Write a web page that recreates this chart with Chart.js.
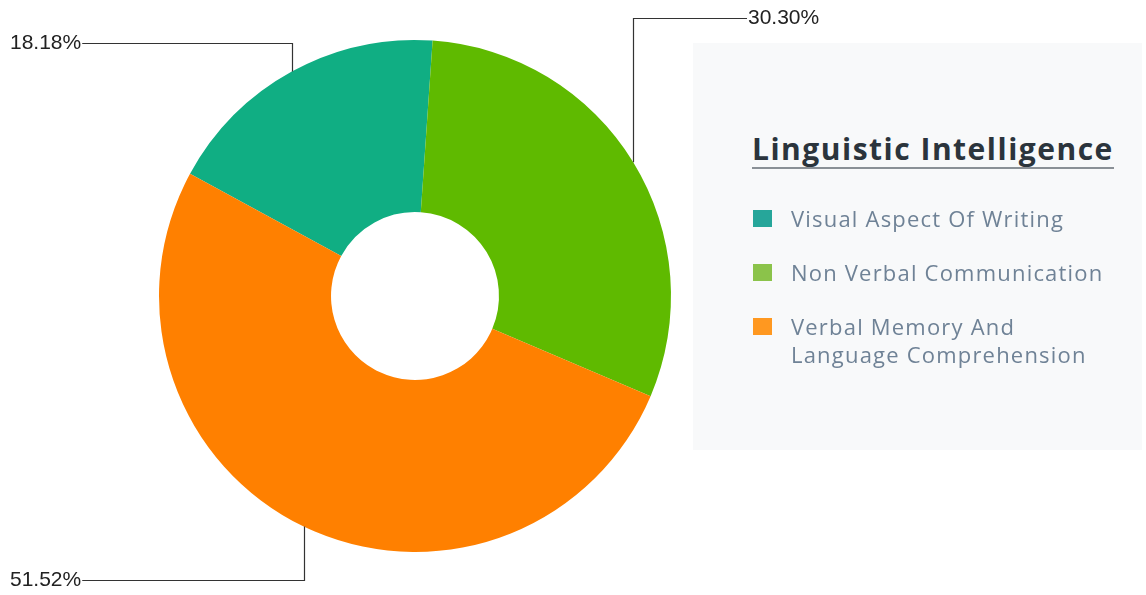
<!DOCTYPE html>
<html>
<head>
<meta charset="utf-8">
<script src="https://cdn.jsdelivr.net/npm/chart.js@4/dist/chart.umd.min.js"></script>
<style>
  html, body { margin: 0; padding: 0; background: #fff; }
  .wrap { position: relative; width: 1146px; height: 595px; }
  #chart { position: absolute; left: 0; top: 0; }
  .legend-box {
    position: absolute; left: 693px; top: 43px; width: 449px; height: 407px;
    background: #f8f9fa; font-family: "Open Sans", Lato, sans-serif;
  }
  .legend-box h2 {
    position: absolute; left: 59px; top: 87px; margin: 0; white-space: nowrap;
    font-size: 30px; font-weight: 700; color: #2b343c; letter-spacing: 1.5px;
    border-bottom: 2px solid #8a9096; line-height: 37px; padding-bottom: 0;
  }
  .legend-item { position: absolute; left: 60px; }
  .legend-item .sw { position: absolute; left: 0; top: 6px; width: 19px; height: 17px; }
  .legend-item .tx {
    position: absolute; left: 38px; top: 0; width: 380px; white-space: nowrap;
    font-size: 22px; line-height: 28px; color: #6f8296; letter-spacing: 1.2px;
  }
</style>
</head>
<body>
<div class="wrap">
  <canvas id="chart" width="1146" height="595"></canvas>
  <div class="legend-box" id="legend"></div>
</div>
<script>
const categories = ["Visual Aspect Of Writing", "Non Verbal Communication", "Verbal Memory And Language Comprehension"];
const legendLines = [["Visual Aspect Of Writing"], ["Non Verbal Communication"], ["Verbal Memory And", "Language Comprehension"]];
const percents = [18.18, 30.30, 51.52];
const sliceColors = ["#10ae83", "#5fba00", "#ff8000"];
const legendColors = ["#26a69a", "#8bc34a", "#ff9820"];

const ctx = document.getElementById("chart");

// callout labels: vertical from arc middle, then horizontal to the text
const calloutPlugin = {
  id: "callouts",
  afterDatasetsDraw(chart, args, opts) {
    const c = chart.ctx;
    const meta = chart.getDatasetMeta(0);
    c.save();
    c.strokeStyle = "#333";
    c.lineWidth = 1.2;
    c.font = "21px 'Liberation Sans', Arial, sans-serif";
    c.fillStyle = "#222";
    c.textBaseline = "middle";
    meta.data.forEach((arc, i) => {
      const mid = (arc.startAngle + arc.endAngle) / 2;
      const px = arc.x + Math.cos(mid) * arc.outerRadius;
      const py = arc.y + Math.sin(mid) * arc.outerRadius;
      const ly = opts.labelY[i];
      const text = percents[i].toFixed(2) + "%";
      const w = c.measureText(text).width;
      let tx, lineEnd;
      if (px < arc.x) {
        tx = opts.leftX;
        lineEnd = tx + w + 1;
      } else {
        tx = opts.rightX;
        lineEnd = tx - 1;
      }
      c.beginPath();
      c.moveTo(Math.round(px) + 0.5, py);
      c.lineTo(Math.round(px) + 0.5, Math.round(ly) + 0.5);
      c.lineTo(lineEnd, Math.round(ly) + 0.5);
      c.stroke();
      c.textAlign = "left";
      c.fillText(text, tx, ly);
    });
    c.restore();
  }
};

new Chart(ctx, {
  type: "doughnut",
  data: {
    labels: categories,
    datasets: [{
      data: percents,
      backgroundColor: sliceColors,
      borderWidth: 0,
    }],
  },
  options: {
    responsive: false,
    animation: false,
    rotation: -61.5,
    cutout: "32.8%",
    layout: { padding: { left: 159, right: 475, top: 40, bottom: 43 } },
    plugins: {
      legend: { display: false },
      tooltip: { enabled: false },
      callouts: { labelY: [43, 18, 580], leftX: 10, rightX: 748 },
    },
  },
  plugins: [calloutPlugin],
});

// side legend panel
const legend = document.getElementById("legend");
legend.innerHTML = "<h2>Linguistic Intelligence</h2>";
const rowTops = [161, 215, 269];
legendLines.forEach((lines, i) => {
  const item = document.createElement("div");
  item.className = "legend-item";
  item.style.top = rowTops[i] + "px";
  item.innerHTML = '<div class="sw" style="background:' + legendColors[i] + '"></div>' +
    '<div class="tx">' + lines.join("<br>") + "</div>";
  legend.appendChild(item);
});
</script>
</body>
</html>
